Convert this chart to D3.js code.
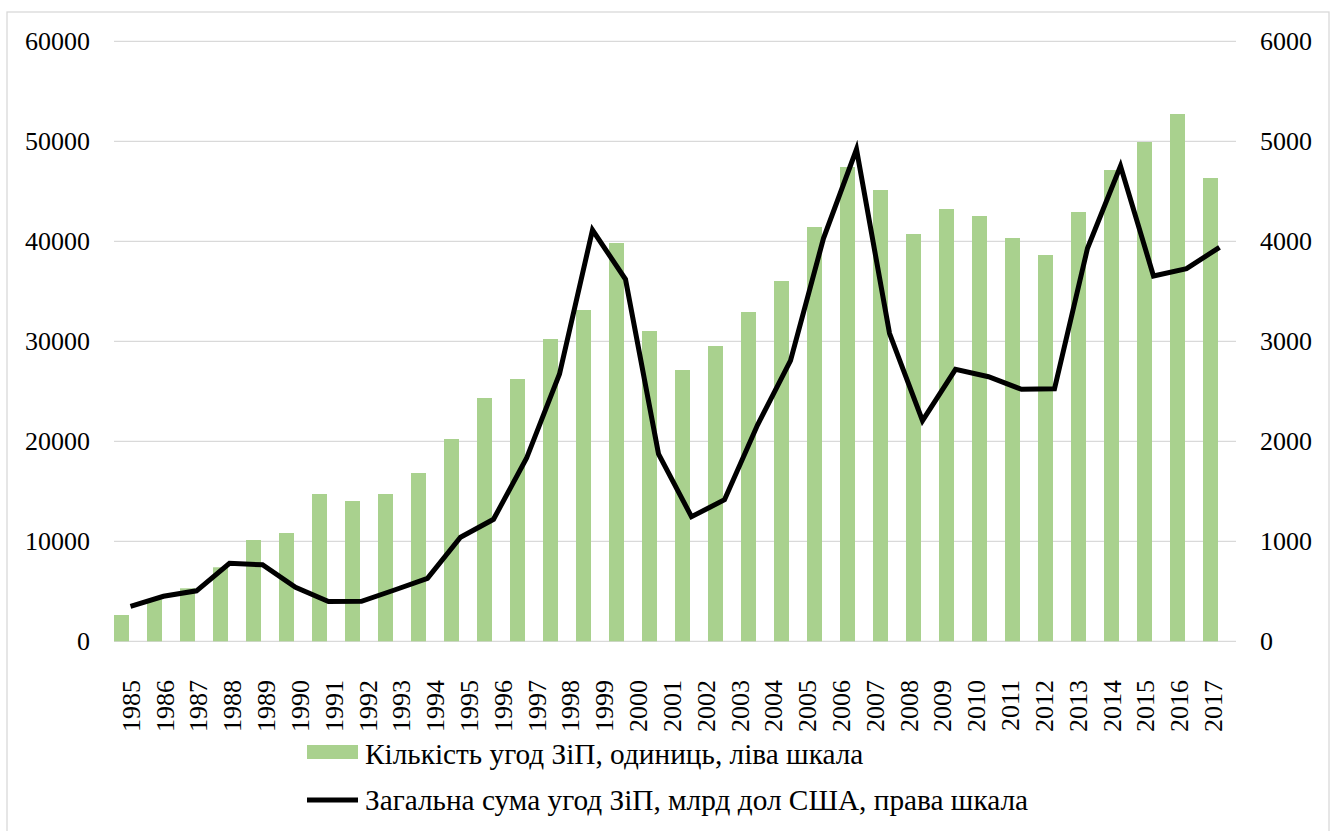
<!DOCTYPE html>
<html>
<head>
<meta charset="utf-8">
<script src="https://cdn.jsdelivr.net/npm/d3@7"></script>
<style>
  html, body { margin: 0; padding: 0; background: #fff; }
</style>
</head>
<body>
<svg id="chart"></svg>
<script>
// years on the category axis (last one is clipped in the original)
const years = d3.range(1985, 2019).map(String);

// number of M&A deals, units (left scale)
const dealCount = [2630, 4200, 5300, 7400, 10130, 10830, 14730, 14030, 14730, 16830,
  20230, 24330, 26230, 30230, 33130, 39830, 31030, 27130, 29530, 32930,
  36030, 41430, 47430, 45130, 40730, 43230, 42530, 40330, 38630, 42930,
  47130, 49930, 52730, 46330];

// total value of deals, bn USD (right scale)
const dealValue = [350, 450, 505, 780, 765, 540, 398, 400, 513, 630,
  1040, 1220, 1830, 2673, 4113, 3620, 1875, 1246, 1415, 2163,
  2806, 4030, 4920, 3080, 2206, 2720, 2646, 2520, 2525, 3930,
  4753, 3653, 3726, 3940];

const leftTicks = [0, 10000, 20000, 30000, 40000, 50000, 60000];
const rightTicks = [0, 1000, 2000, 3000, 4000, 5000, 6000];

const legendLabels = [
  "Кількість угод ЗіП, одиниць, ліва шкала",
  "Загальна сума угод ЗіП, млрд дол США, права шкала"
];

const W = 1334, H = 831;
const plot = {left: 114, right: 1236, top: 41.3, bottom: 641.3};
const font = "'Liberation Serif', 'Times New Roman', serif";
const fontSize = 26;

const svg = d3.select("#chart").attr("width", W).attr("height", H);

// outer frame of the chart
svg.append("rect")
  .attr("x", 7).attr("y", 12)
  .attr("width", 1322).attr("height", 840)
  .attr("fill", "none")
  .attr("stroke", "#d9d9d9")
  .attr("stroke-width", 1.3);

const x = d3.scaleBand().domain(years).range([plot.left, plot.right]).padding(0);
const yLeft = d3.scaleLinear().domain([0, 60000]).range([plot.bottom, plot.top]);
const yRight = d3.scaleLinear().domain([0, 6000]).range([plot.bottom, plot.top]);

// labels are spaced a touch wider than the bars
const xLabel = d3.scalePoint().domain(years).range([130.7, 130.7 + 33 * 33.82]);

// gridlines
svg.append("g")
  .selectAll("line")
  .data(leftTicks)
  .join("line")
  .attr("x1", plot.left).attr("x2", plot.right)
  .attr("y1", d => yLeft(d)).attr("y2", d => yLeft(d))
  .attr("stroke", "#d9d9d9")
  .attr("stroke-width", 1.3);

// left axis
const leftAxis = svg.append("g")
  .attr("transform", `translate(${plot.left - 24},0)`)
  .call(d3.axisLeft(yLeft).tickValues(leftTicks).tickSize(0).tickPadding(0).tickFormat(d3.format("d")));
leftAxis.select(".domain").remove();
leftAxis.selectAll("text")
  .style("font-family", font)
  .style("font-size", fontSize + "px")
  .attr("fill", "#000");

// right axis
const rightAxis = svg.append("g")
  .attr("transform", `translate(${plot.right + 24},0)`)
  .call(d3.axisRight(yRight).tickValues(rightTicks).tickSize(0).tickPadding(0).tickFormat(d3.format("d")));
rightAxis.select(".domain").remove();
rightAxis.selectAll("text")
  .style("font-family", font)
  .style("font-size", fontSize + "px")
  .attr("fill", "#000");

// bars sit in the left half of each category
const barW = 15;
svg.append("g")
  .selectAll("rect")
  .data(dealCount)
  .join("rect")
  .attr("x", (d, i) => x(years[i]))
  .attr("y", d => yLeft(d))
  .attr("width", barW)
  .attr("height", d => yLeft(0) - yLeft(d))
  .attr("fill", "#a9d18e");

// line on the right scale
const line = d3.line()
  .x((d, i) => x(years[i]) + x.bandwidth() / 2)
  .y(d => yRight(d));

svg.append("path")
  .datum(dealValue)
  .attr("d", line)
  .attr("fill", "none")
  .attr("stroke", "#000")
  .attr("stroke-width", 5)
  .attr("stroke-linejoin", "miter");

// category labels, clipped at the plot's right edge
svg.append("clipPath").attr("id", "labelClip")
  .append("rect").attr("x", 0).attr("y", 0).attr("width", 1237).attr("height", H);

svg.append("g")
  .attr("clip-path", "url(#labelClip)")
  .selectAll("text")
  .data(years)
  .join("text")
  .attr("transform", d => `translate(${xLabel(d)},680) rotate(-90)`)
  .attr("text-anchor", "end")
  .attr("dy", "0.35em")
  .style("font-family", font)
  .style("font-size", fontSize + "px")
  .attr("fill", "#000")
  .text(d => d);

// legend
const legend = svg.append("g");
legend.append("rect")
  .attr("x", 307).attr("y", 745)
  .attr("width", 51).attr("height", 14)
  .attr("fill", "#a9d18e");
legend.append("line")
  .attr("x1", 307).attr("x2", 358)
  .attr("y1", 800).attr("y2", 800)
  .attr("stroke", "#000")
  .attr("stroke-width", 5);
legend.selectAll("text")
  .data(legendLabels)
  .join("text")
  .attr("x", 365)
  .attr("y", (d, i) => 754 + i * 46)
  .attr("dy", "0.35em")
  .style("font-family", font)
  .style("font-size", "29.3px")
  .attr("fill", "#000")
  .text(d => d);
</script>
</body>
</html>
